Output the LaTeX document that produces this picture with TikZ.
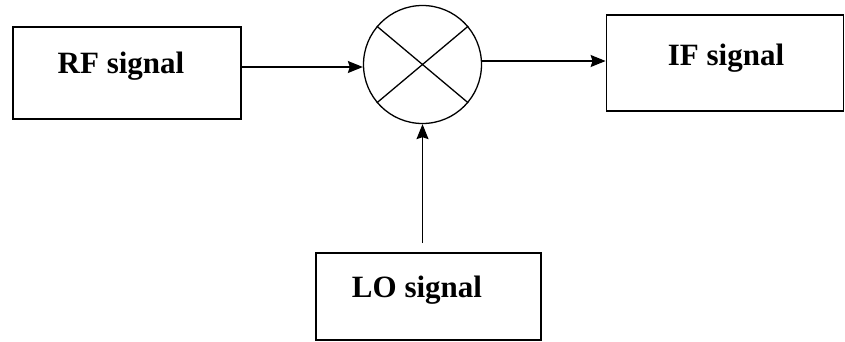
\documentclass[tikz,border=0pt]{standalone}
\usepackage{fontspec}
\setmainfont{Liberation Serif}
\usetikzlibrary{arrows.meta}
\begin{document}
\begin{tikzpicture}[x=1pt,y=-1pt,
  block/.style={draw, line width=1.8pt, rectangle, inner sep=0pt},
  label/.style={font=\fontsize{31}{31}\selectfont\bfseries, inner sep=0pt},
  arr/.style={line width=1.4pt, -{Stealth[length=15pt,width=12pt,inset=2pt]}}]
  \useasboundingbox (0,0) rectangle (845,341);
  % blocks
  \node[block, minimum width=228pt, minimum height=92pt] (rf) at (127,73) {};
  \node[block, minimum width=237pt, minimum height=96pt] (if) at (725,63) {};
  \node[block, minimum width=225pt, minimum height=87pt] (lo) at (428.5,296.5) {};
  \node[label] (rft) at (121,66) {RF signal};
  \node[label] (ift) at (726,58) {IF signal};
  \node[label] (lot) at (417,290) {LO signal};
  % mixer
  \node[draw, circle, line width=1.3pt, minimum size=118pt, inner sep=0pt] (mix) at (422.5,64.5) {};
  \draw[line width=1.3pt] (mix.140) -- (mix.-40);
  \draw[line width=1.3pt] (mix.40) -- (mix.220);
  % signal paths
  \draw[arr] (rf.east |- 0,67) -- (mix.west |- 0,67);
  \draw[arr] (mix.east |- 0,61) -- (if.west |- 0,61);
  \draw[arr, shorten <=9pt] (lo.north -| mix.south) -- (mix.south);
\end{tikzpicture}
\end{document}
